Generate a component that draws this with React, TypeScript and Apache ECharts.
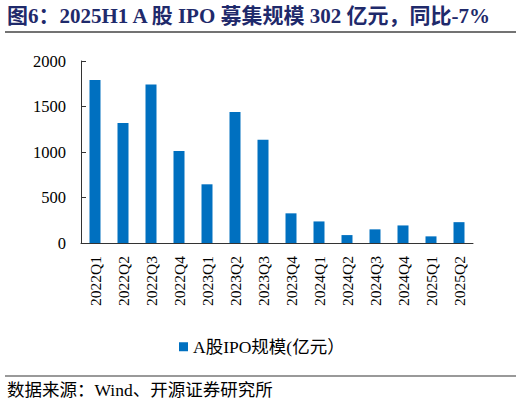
import React, { useEffect, useRef } from "react";
import * as echarts from "echarts";

const categories = [
  "2022Q1", "2022Q2", "2022Q3", "2022Q4",
  "2023Q1", "2023Q2", "2023Q3", "2023Q4",
  "2024Q1", "2024Q2", "2024Q3", "2024Q4",
  "2025Q1", "2025Q2",
];
const ipoValues = [1792, 1319, 1741, 1010, 645, 1440, 1134, 326, 237, 87, 150, 193, 73, 229];
const seriesName = "A股IPO规模(亿元）";
const titleText = "图6：2025H1 A 股 IPO 募集规模 302 亿元，同比-7%";
const sourceText = "数据来源：Wind、开源证券研究所";

const FONT = '"Liberation Serif", "Times New Roman", "Noto Sans CJK SC", serif';

export default function App() {
  const ref = useRef<HTMLDivElement>(null);
  useEffect(() => {
    document.body.style.margin = "0";
    if (!ref.current) return;
    const chart = echarts.init(ref.current, null, { renderer: "svg" });
    chart.setOption({
      animation: false,
      backgroundColor: "#ffffff",
      textStyle: { fontFamily: FONT },
      grid: { left: 81, right: 49, top: 61, bottom: 162, containLabel: false },
      xAxis: {
        type: "category",
        data: categories,
        axisLine: { lineStyle: { color: "#333333", width: 1 } },
        axisTick: { inside: true, length: 5, lineStyle: { color: "#333333" } },
        axisLabel: { rotate: 90, fontSize: 15.5, color: "#000000", margin: 13, fontFamily: FONT },
      },
      yAxis: {
        type: "value",
        min: 0,
        max: 2000,
        interval: 500,
        splitLine: { show: false },
        axisLine: { show: true, lineStyle: { color: "#333333", width: 1 } },
        axisTick: { show: true, inside: true, length: 5, lineStyle: { color: "#333333" } },
        axisLabel: {
          fontSize: 16.5,
          color: "#000000",
          margin: 15,
          fontFamily: FONT,
          formatter: (v: number) => String(v),
        },
      },
      legend: {
        data: [seriesName],
        top: 333,
        left: 174,
        icon: "rect",
        itemWidth: 9,
        itemHeight: 9,
        itemGap: 5,
        textStyle: { fontSize: 17.5, color: "#000000", fontFamily: FONT },
      },
      series: [
        {
          name: seriesName,
          type: "bar",
          data: ipoValues,
          barWidth: 11,
          itemStyle: { color: "#0070C0" },
        },
      ],
      graphic: [
        {
          type: "text",
          left: 7,
          top: 5,
          style: {
            text: titleText,
            fontSize: 21,
            fontWeight: "bold",
            fill: "#1F2A6B",
            fontFamily: FONT,
          },
        },
        {
          type: "line",
          shape: { x1: 5, y1: 32, x2: 516, y2: 32 },
          style: { stroke: "#444444", lineWidth: 1.5 },
        },
        {
          type: "line",
          shape: { x1: 5, y1: 376, x2: 516, y2: 376 },
          style: { stroke: "#777777", lineWidth: 1.5 },
        },
        {
          type: "text",
          left: 7,
          top: 381,
          style: {
            text: sourceText,
            fontSize: 17.5,
            fill: "#000000",
            fontFamily: FONT,
          },
        },
      ],
    });
    return () => chart.dispose();
  }, []);
  return <div ref={ref} style={{ width: 522, height: 405 }} />;
}
